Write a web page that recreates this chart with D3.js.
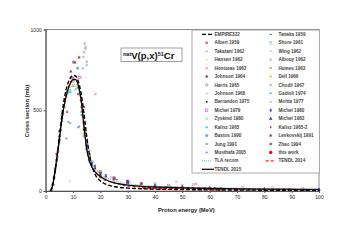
<!DOCTYPE html>
<html>
<head>
<meta charset="utf-8">
<script src="https://cdn.jsdelivr.net/npm/d3@7"></script>
<style>
  body { margin: 0; background: #fff; }
  svg { display: block; font-family: 'Liberation Sans', Arial, sans-serif; }
</style>
</head>
<body>
<svg id="chart" width="351" height="248"></svg>
<script>
// [energy MeV, cross section mb]
const empire322 = [[1.8,0],[2,5],[3,70],[4,190],[5,335],[6,480],[7,590],[8,660],[9,700],[10,716],[11,712],[12,675],[13,600],[14,480],[15,340],[16,225],[17,150],[18,105],[20,62],[22,42],[25,28],[30,18],[40,12],[50,9],[60,7],[70,6],[80,5],[90,5],[100,4]];
const tendl2015 = [[1.6,0],[2,8],[2.5,35],[3,80],[3.5,135],[4,195],[4.5,255],[5,320],[5.5,390],[6,450],[7,550],[8,620],[9,665],[10,690],[11,690],[12,650],[13,560],[14,400],[15,260],[16,185],[17,145],[18,120],[20,90],[23,62],[26,47],[30,36],[35,29],[40,25],[50,20],[60,16],[70,14],[80,12],[90,11],[100,10]];
const tendl2014 = [[1.6,0],[2,6],[3,75],[4,190],[5,320],[6,455],[7,555],[8,625],[9,670],[10,695],[11,690],[12,645],[13,550],[14,400],[15,265],[16,190],[18,118],[20,85],[25,50],[30,32],[40,22],[50,17],[60,14],[70,12],[80,11],[90,10],[100,9]];
const tlaRecom = [[2,5],[3,70],[4,190],[5,320],[6,450],[7,550],[8,610],[9,640],[10,655],[11,662],[12,640],[13,560],[14,420],[15,290],[16,210],[18,140],[20,105],[25,65],[30,45],[40,30],[50,24],[60,20],[70,18]];

const albert1959 = [[4,230],[5,370],[6.3,480],[7.8,490],[10,700],[12,600],[14,380],[16,210],[18,140]];
const takatani1962 = [[3,40],[4.5,210],[6,430],[9,610],[13,470],[16,190],[20,95]];
const hansen1962 = [[5,300],[7,540],[9,660],[11,650],[14,350],[18,130],[25,60],[35,40]];
const hontzeas1963 = [[5,310],[10,690],[15,270],[18.2,600],[22,90],[30,60],[40,45],[50,35],[55,45]];
const johnson1964 = [[2,8],[2.5,40],[3,85],[3.5,140],[4,195],[4.5,250],[5,320],[5.5,380]];
const harris1965 = [[6,470],[8,610],[10,680],[12,640],[14,340],[16,190],[20,90]];
const johnson1968 = [[2.2,20],[3,95],[4,210],[5,330],[6,440]];
const barrandon1975 = [[12,640],[14,380],[16,200],[18,140],[20,110],[25,70],[30,50],[40,35]];
const michel1979 = [[12.5,703],[15,290],[20,120],[25,80],[30,60],[35,45],[45,35]];
const zyskind1980 = [[4,180],[5,300],[6,450],[7,520],[8,600]];
const kalisz1965 = [[5,340],[6,470],[7,560],[9,620],[11,630],[13,490],[15,260]];
const bastos1990 = [[9.5,700],[10.1,798],[11.7,761],[13,560],[17,180]];
const jung1991 = [[14,420],[16,230],[18,160],[22,100],[26,70]];
const musthafa2005 = [[7.6,325],[8.3,428],[8.9,420],[11.9,395],[12.3,400],[16,180]];
const tanaka1959 = [[20,90],[30,45],[40,30],[60,12],[75,5],[85,3],[95,2]];
const shore1961 = [[30,50],[54,40],[72,20],[83,18],[94,15]];
const wing1962 = [[8.8,60],[12,640],[17,170],[22,95],[31,55],[45,35]];
const albouy1962 = [[13.8,830],[14.5,880],[15,780],[16,250],[20,120]];
const humes1963 = [[6,480],[8,620],[10,650],[13,520],[16,200]];
const dell1966 = [[7,560],[10,690],[14,360],[19,120]];
const chodil1967 = [[13.6,760],[14,860],[14.2,913],[14.6,890],[15,800]];
const gadioli1974 = [[12,600],[15,260],[20,110],[25,70],[30,50],[40,32],[50,25]];
const mohta1977 = [[24,85],[40,45],[47.8,57],[54,42]];
const michel1980 = [[15,280],[18,150],[22,90],[30,55],[40,35],[60,20],[80,12],[100,8]];
const michel1983 = [[20,100],[30,50],[50,25],[70,10],[100,6]];
const kalisz1965b = [[13,560],[15,260],[17,170]];
const levkovskij1991 = [[9.2,740],[10.7,796],[12.2,827],[14,520],[16,210],[20,110],[25,80],[30,60],[35,45]];
const zhao1994 = [[13.5,470],[14,420],[14.5,360],[15,290],[16,220]];
const thisWork = [[36,22],[38,20],[40,21],[42,18],[44,20],[46,18],[48,17],[50,17],[52,16],[54,16],[56,15],[58,15],[60,14],[62,14],[64,13]];

const xTicks = [0, 10, 20, 30, 40, 50, 60, 70, 80, 90, 100];
const yTicks = [0, 500, 1000];

// legend columns: label, data, style
const col1 = [
  ['EMPIRE322', empire322, { line: '#000', dash: '4,2', w: 1.4 }],
  ['Albert 1959', albert1959, { sym: 'square', c: '#d46a6a' }],
  ['Takatani 1962', takatani1962, { sym: 'dash', c: '#1ab0e0' }],
  ['Hansen 1962', hansen1962, { sym: 'plus', c: '#f5c28a' }],
  ['Hontzeas 1963', hontzeas1963, { sym: 'square', c: '#f7a8d0' }],
  ['Johnson 1964', johnson1964, { sym: 'triangle', c: '#555' }],
  ['Harris 1965', harris1965, { sym: 'circleOpen', c: '#777' }],
  ['Johnson 1968', johnson1968, { sym: 'x', c: '#b49ee0' }],
  ['Barrandon 1975', barrandon1975, { sym: 'square', c: '#111', s: 1.6 }],
  ['Michel 1979', michel1979, { sym: 'squareOpen', c: '#e040e0' }],
  ['Zyskind 1980', zyskind1980, { sym: 'square', c: '#aef0a0' }],
  ['Kalisz 1965', kalisz1965, { sym: 'triangle', c: '#40e0e0' }],
  ['Bastos 1990', bastos1990, { sym: 'circle', c: '#7ea6e0', s: 3.2 }],
  ['Jung 1991', jung1991, { sym: 'dash', c: '#333' }],
  ['Musthafa 2005', musthafa2005, { sym: 'plus', c: '#4a7ae0' }],
  ['TLA recom', tlaRecom, { line: '#66cdaa', dash: '1,1', w: 1.2 }],
  ['TENDL 2015', tendl2015, { line: '#000', w: 1.2 }],
];
const col2 = [
  ['Tanaka 1959', tanaka1959, { sym: 'dash', c: '#2040e0' }],
  ['Shore 1961', shore1961, { sym: 'boxX', c: '#8ccce0' }],
  ['Wing 1962', wing1962, { sym: 'x', c: '#8cc8f0' }],
  ['Albouy 1962', albouy1962, { sym: 'star', c: '#9cb8d8' }],
  ['Humes 1963', humes1963, { sym: 'triangle', c: '#f0a070' }],
  ['Dell 1966', dell1966, { sym: 'circle', c: '#f0d020' }],
  ['Chodil 1967', chodil1967, { sym: 'star', c: '#b0a0d0' }],
  ['Gadioli 1974', gadioli1974, { sym: 'plus', c: '#20a090' }],
  ['Mohta 1977', mohta1977, { sym: 'square', c: '#f4c0d8' }],
  ['Michel 1980', michel1980, { sym: 'diamond', c: '#5040d0' }],
  ['Michel 1983', michel1983, { sym: 'triangle', c: '#2030c0' }],
  ['Kalisz 1965-2', kalisz1965b, { sym: 'diamond', c: '#8030a0', s: 1.8 }],
  ['Levkovskij 1991', levkovskij1991, { sym: 'star', c: '#901010' }],
  ['Zhao 1994', zhao1994, { sym: 'square', c: '#5a8a5a' }],
  ['this work', thisWork, { sym: 'circle', c: '#ff0000', s: 3.4 }],
  ['TENDL 2014', tendl2014, { line: '#ff2020', dash: '3,2', w: 1.2 }],
];

const svg = d3.select('#chart');
const width = 351;
const height = 248;
const margin = { top: 29.5, right: 32, bottom: 57, left: 45.7 };
const innerW = width - margin.left - margin.right;
const innerH = height - margin.top - margin.bottom;

svg.append('rect').attr('width', width).attr('height', height).attr('fill', '#fff');

const g = svg.append('g').attr('transform', `translate(${margin.left}, ${margin.top})`);

const x = d3.scaleLinear().domain([0, 100]).range([0, innerW]);
const y = d3.scaleLinear().domain([0, 1000]).range([innerH, 0]);

// frame
g.append('rect')
  .attr('width', innerW).attr('height', innerH)
  .attr('fill', 'none').attr('stroke', '#8a8a8a').attr('stroke-width', 1);

const xAxis = d3.axisBottom(x).tickValues(xTicks).tickSize(2).tickPadding(2).tickFormat(d3.format('d'));
const yAxis = d3.axisLeft(y).tickValues(yTicks).tickSize(2).tickPadding(2).tickFormat(d3.format('d'));

const gx = g.append('g').attr('transform', `translate(0, ${innerH})`).call(xAxis);
const gy = g.append('g').call(yAxis);
[gx, gy].forEach(a => {
  a.select('.domain').attr('stroke', '#555');
  a.selectAll('.tick line').attr('stroke', '#555');
  a.selectAll('.tick text').attr('font-size', 5).attr('fill', '#222')
    .attr('font-family', "'Liberation Sans', Arial, sans-serif");
});

// axis titles
svg.append('text')
  .attr('x', margin.left + innerW / 2 + 4).attr('y', 211.5)
  .attr('text-anchor', 'middle').attr('font-size', 5.8).attr('font-weight', 'bold')
  .attr('fill', '#222').text('Proton energy (MeV)');
svg.append('text')
  .attr('transform', 'translate(29, 111) rotate(-90)')
  .attr('text-anchor', 'middle').attr('font-size', 5.8).attr('font-weight', 'bold')
  .attr('fill', '#222').text('Cross section (mb)');

// markers
function drawMarker(sel, st) {
  const s = st.s || 2.4;
  const h = s / 2;
  const c = st.c;
  switch (st.sym) {
    case 'square':
      sel.append('rect').attr('x', -h).attr('y', -h).attr('width', s).attr('height', s).attr('fill', c);
      break;
    case 'squareOpen':
      sel.append('rect').attr('x', -h).attr('y', -h).attr('width', s).attr('height', s)
        .attr('fill', 'none').attr('stroke', c).attr('stroke-width', 0.6);
      break;
    case 'circle':
      sel.append('circle').attr('r', h).attr('fill', c);
      break;
    case 'circleOpen':
      sel.append('circle').attr('r', h).attr('fill', 'none').attr('stroke', c).attr('stroke-width', 0.6);
      break;
    case 'dash':
      sel.append('line').attr('x1', -h).attr('x2', h).attr('stroke', c).attr('stroke-width', 0.8);
      break;
    case 'plus':
      sel.append('path').attr('d', `M${-h},0H${h}M0,${-h}V${h}`).attr('stroke', c).attr('stroke-width', 0.6);
      break;
    case 'x':
      sel.append('path').attr('d', `M${-h},${-h}L${h},${h}M${-h},${h}L${h},${-h}`).attr('stroke', c).attr('stroke-width', 0.6);
      break;
    case 'boxX':
      sel.append('rect').attr('x', -h).attr('y', -h).attr('width', s).attr('height', s)
        .attr('fill', 'none').attr('stroke', c).attr('stroke-width', 0.5);
      sel.append('path').attr('d', `M${-h},${-h}L${h},${h}M${-h},${h}L${h},${-h}`).attr('stroke', c).attr('stroke-width', 0.5);
      break;
    case 'star':
      sel.append('path').attr('d', d3.symbol(d3.symbolAsterisk, s * s * 1.2)).attr('stroke', c).attr('stroke-width', 0.6).attr('fill', 'none');
      break;
    case 'triangle':
      sel.append('path').attr('d', d3.symbol(d3.symbolTriangle, s * s * 0.9)).attr('fill', c);
      break;
    case 'diamond':
      sel.append('path').attr('d', d3.symbol(d3.symbolDiamond, s * s * 0.9)).attr('fill', c);
      break;
  }
}

const line = d3.line().x(d => x(d[0])).y(d => y(d[1])).curve(d3.curveMonotoneX);
const all = col1.concat(col2);

const plot = g.append('g');

// scatter data first
all.filter(d => d[2].sym).forEach(([name, data, st]) => {
  plot.selectAll(null)
    .data(data)
    .enter().append('g')
      .attr('transform', d => `translate(${x(d[0])}, ${y(d[1])})`)
      .each(function() { drawMarker(d3.select(this), st); });
});

// curves on top
const curveOrder = ['TLA recom', 'TENDL 2014', 'EMPIRE322', 'TENDL 2015'];
curveOrder.forEach(n => {
  const [name, data, st] = all.find(d => d[0] === n);
  plot.append('path')
    .datum(data)
    .attr('d', line)
    .attr('fill', 'none')
    .attr('stroke', st.line)
    .attr('stroke-width', st.w)
    .attr('stroke-dasharray', st.dash || null);
});

// reaction label
const lbl = svg.append('g');
lbl.append('rect')
  .attr('x', 121).attr('y', 48).attr('width', 61).attr('height', 13.5)
  .attr('fill', '#fff').attr('stroke', '#888').attr('stroke-width', 0.8);
const t = lbl.append('text').attr('x', 123).attr('y', 58.5).attr('fill', '#111').attr('font-weight', 'bold');
t.append('tspan').attr('font-size', 5.5).attr('dy', -3).text('nat');
t.append('tspan').attr('font-size', 9.5).attr('dy', 3).text('V(p,x)');
t.append('tspan').attr('font-size', 5.5).attr('dy', -3).text('51');
t.append('tspan').attr('font-size', 9.5).attr('dy', 3).text('Cr');

// legend
const legend = svg.append('g').attr('class', 'legend');
legend.append('rect')
  .attr('x', 192).attr('y', 30).attr('width', 127.5).attr('height', 143)
  .attr('fill', '#fff').attr('stroke', '#999').attr('stroke-width', 0.8);

const rowY = i => 34.4 + i * 8.43;
[[col1, 206.7, 202, 212, 214.5], [col2, 270.7, 265.7, 275.5, 278.5]].forEach(([col, mx, lx1, lx2, tx]) => {
  col.forEach(([name, data, st], i) => {
    const yy = rowY(i);
    if (st.line) {
      const x2 = name === 'TENDL 2015' ? lx2 + 2 : lx2;
      legend.append('line')
        .attr('x1', lx1).attr('x2', x2).attr('y1', yy).attr('y2', yy)
        .attr('stroke', st.line).attr('stroke-width', st.w)
        .attr('stroke-dasharray', st.dash || null);
    } else {
      drawMarker(legend.append('g').attr('transform', `translate(${mx}, ${yy})`), st);
    }
    legend.append('text')
      .attr('x', tx).attr('y', yy + 1.6)
      .attr('font-size', 4.6).attr('font-weight', 'bold').attr('fill', '#444')
      .text(name);
  });
});
</script>
</body>
</html>
